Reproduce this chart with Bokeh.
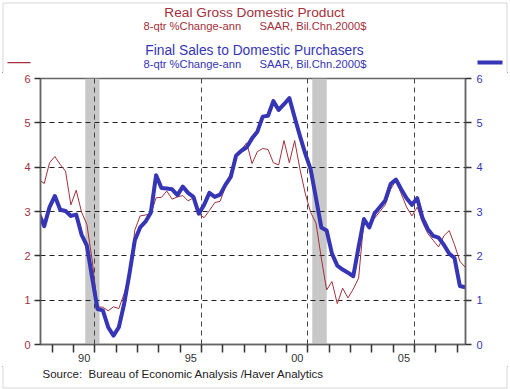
from bokeh.plotting import figure
from bokeh.layouts import column
from bokeh.models import (LinearAxis, FixedTicker, Label, BoxAnnotation, Range1d,
                          ColumnDataSource, InlineStyleSheet)
from bokeh.embed import file_html
from bokeh.resources import INLINE

# ---- data ----
start_year = 1988
start_quarter = 2
gdp = [3.72, 3.63, 4.10, 4.24, 4.06, 3.91, 3.15, 3.48, 2.99, 2.71,
       1.90, 0.85, 0.84, 0.76, 0.85, 0.81, 1.15, 1.55, 2.58, 2.90,
       2.92, 2.95, 3.31, 3.32, 3.46, 3.28, 3.33, 3.36, 3.24, 3.31,
       2.95, 2.86, 3.02, 3.20, 3.23, 3.55, 3.88, 4.30, 4.40, 4.55,
       4.08, 4.35, 4.42, 4.40, 4.10, 4.05, 4.60, 4.10, 4.60, 3.95,
       3.40, 2.98, 2.74, 1.95, 1.23, 1.42, 0.92, 1.27, 1.05, 1.25,
       1.50, 2.81, 2.70, 2.85, 3.00, 3.15, 3.50, 3.70, 3.40, 3.10,
       2.90, 3.10, 2.75, 2.50, 2.35, 2.20, 2.45, 2.57, 2.25, 1.88,
       1.74]
final_sales = [2.95, 2.67, 3.10, 3.35, 3.04, 3.01, 2.90, 2.93, 2.48, 2.23,
               1.50, 0.80, 0.77, 0.39, 0.20, 0.39, 0.92, 1.60, 2.35, 2.64,
               2.77, 2.97, 3.82, 3.53, 3.52, 3.50, 3.37, 3.56, 3.42, 3.33,
               2.95, 3.15, 3.42, 3.33, 3.38, 3.60, 3.78, 4.26, 4.37, 4.45,
               4.65, 4.80, 5.14, 5.16, 5.49, 5.29, 5.42, 5.56, 5.12, 4.70,
               4.30, 3.95, 3.30, 2.64, 2.57, 2.05, 1.78, 1.69, 1.62, 1.54,
               2.20, 2.83, 2.64, 2.96, 3.10, 3.25, 3.62, 3.72, 3.50, 3.30,
               3.15, 3.30, 2.85, 2.60, 2.45, 2.41, 2.25, 2.05, 1.95, 1.32,
               1.29]
recession_start = [1990.55, 2001.2]
recession_end = [1991.22, 2001.88]
year_label_pos = [1990.5, 1995.5, 2000.5, 2005.5]
year_labels = ["90", "95", "00", "05"]
year_ticks = list(range(1989, 2009))
grid_years = [1991, 1996, 2001, 2006]
y_ticks = [0, 1, 2, 3, 4, 5, 6]

quarter_x = [start_year + (start_quarter - 1 + k) / 4 + 0.125 for k in range(len(gdp))]
src = ColumnDataSource(dict(x=quarter_x, gdp=gdp, fs=final_sales))

RED = "#a3303c"
BLUE = "#3535b5"
FONT = "Liberation Sans"
W = 510


def blank(h):
    f = figure(width=W, height=h, output_backend="svg", toolbar_location=None,
               x_axis_type=None, y_axis_type=None, min_border=0)
    f.frame_align = False
    f.outline_line_color = None
    f.grid.visible = False
    f.background_fill_color = "white"
    f.border_fill_color = "white"
    return f


def lab(f, text, x, y, color, size, align="left"):
    f.add_layout(Label(x=x, y=y, x_units="screen", y_units="screen", text=text,
                       text_color=color, text_font=FONT, text_font_size=size,
                       text_align=align, text_baseline="middle"))


def sbox(f, left, right, bottom, top, **kw):
    f.add_layout(BoxAnnotation(left=left, right=right, bottom=bottom, top=top,
                               left_units="screen", right_units="screen",
                               bottom_units="screen", top_units="screen", **kw))


# ---- header (titles + keys) ----
head = blank(72)
lab(head, "Real Gross Domestic Product", 254, 60, RED, "13.7px", "center")
lab(head, "8-qtr %Change-ann", 143, 46.5, RED, "11.2px")
lab(head, "SAAR, Bil.Chn.2000$", 259, 46.5, RED, "11.2px")
lab(head, "Final Sales to Domestic Purchasers", 254, 22, BLUE, "13.8px", "center")
lab(head, "8-qtr %Change-ann", 143, 8.5, BLUE, "11.2px")
lab(head, "SAAR, Bil.Chn.2000$", 259, 8.5, BLUE, "11.2px")
sbox(head, 7, 30, 9.2, 10.6, fill_color=RED, fill_alpha=1, line_color=None)
sbox(head, 477, 502, 8, 12, fill_color=BLUE, fill_alpha=1, line_color=None)
sbox(head, 2.5, 506.5, -10, 69.5, fill_alpha=0, line_color="#808080", line_width=1)

# ---- main chart ----
p = figure(width=W, height=294, output_backend="svg", toolbar_location=None,
           x_range=Range1d(1988.45, 2008.39), y_range=Range1d(0, 6),
           min_border_left=40, min_border_right=45, min_border_top=6, min_border_bottom=22)
p.frame_align = False
p.background_fill_color = "white"
p.border_fill_color = "white"
p.outline_line_color = "#666666"
p.outline_line_width = 1.5

p.ygrid.ticker = FixedTicker(ticks=[1, 2, 3, 4, 5])
p.ygrid.grid_line_color = "#222222"
p.ygrid.grid_line_dash = "5 4"
p.xgrid.ticker = FixedTicker(ticks=grid_years)
p.xgrid.grid_line_color = "#444444"
p.xgrid.grid_line_dash = "5 4"

shades = [BoxAnnotation(left=s, right=e, fill_color="#c8c8c8", fill_alpha=1.0,
                        line_color=None, level="underlay")
          for s, e in zip(recession_start, recession_end)]
p.center = shades + list(p.center)

xa = p.xaxis[0]
xa.ticker = FixedTicker(ticks=year_label_pos, minor_ticks=year_ticks)
xa.major_label_overrides = {pos: lab_ for pos, lab_ in zip(year_label_pos, year_labels)}
xa.major_tick_out = 0
xa.major_tick_in = 0
xa.minor_tick_out = 8
xa.minor_tick_in = 0
xa.minor_tick_line_color = "#333333"
xa.minor_tick_line_width = 1.5
xa.axis_line_color = "#666666"
xa.axis_line_width = 1.5
xa.major_label_text_font = FONT
xa.major_label_text_font_size = "11px"
xa.major_label_text_color = "#333333"
xa.major_label_standoff = 1

ya = p.yaxis[0]
ya.ticker = FixedTicker(ticks=y_ticks)
ya.major_tick_out = 6
ya.major_tick_in = 0
ya.minor_tick_out = 0
ya.major_tick_line_color = "#333333"
ya.major_tick_line_width = 1.5
ya.axis_line_color = "#666666"
ya.axis_line_width = 1.5
ya.major_label_text_font = FONT
ya.major_label_text_font_size = "11px"
ya.major_label_text_color = RED
ya.major_label_standoff = 4

ra = LinearAxis(ticker=FixedTicker(ticks=y_ticks))
ra.major_tick_out = 6
ra.major_tick_in = 0
ra.minor_tick_out = 0
ra.major_tick_line_color = "#333333"
ra.major_tick_line_width = 1.5
ra.axis_line_color = "#666666"
ra.axis_line_width = 1.5
ra.major_label_text_font = FONT
ra.major_label_text_font_size = "11px"
ra.major_label_text_color = BLUE
ra.major_label_standoff = 5
p.add_layout(ra, "right")

p.line("x", "gdp", source=src, line_color=RED, line_width=1)
p.line("x", "fs", source=src, line_color=BLUE, line_width=4, line_join="round")

# ---- footer (source) ----
foot = blank(23)
lab(foot, "Source:", 42, 16, "#222222", "11.5px")
lab(foot, "Bureau of Economic Analysis /Haver Analytics", 88, 16, "#222222", "11.5px")
sbox(foot, 2.5, 506.5, 1.5, 40, fill_alpha=0, line_color="#808080", line_width=1)

frame_css = InlineStyleSheet(css=":host { outline: 1px solid #808080; outline-offset: -3px; }")
layout = column(head, p, foot, spacing=0, stylesheets=[frame_css])

open("out.html", "w").write(file_html(layout, INLINE))
